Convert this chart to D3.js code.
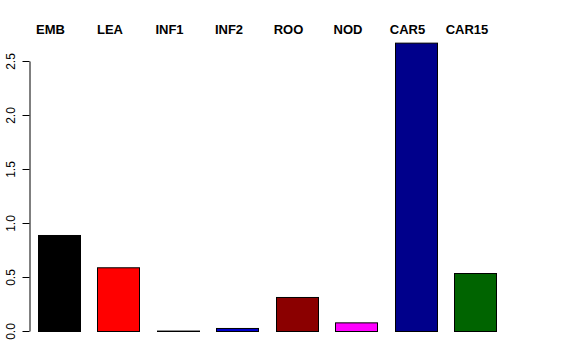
<!DOCTYPE html>
<html><head><meta charset="utf-8">
<script src="https://cdn.jsdelivr.net/npm/d3@7"></script>
<style>body{margin:0;background:#fff}svg{display:block}</style>
</head><body>
<script>
const categories = ["EMB","LEA","INF1","INF2","ROO","NOD","CAR5","CAR15"];
const values = [0.889, 0.59, 0.004, 0.028, 0.315, 0.08, 2.67, 0.537];
const colors = ["#000000","#FF0000","#006400","#0000CD","#8B0000","#FF00FF","#00008B","#006400"];
const yTicks = [0, 0.5, 1.0, 1.5, 2.0, 2.5];

const W = 576, H = 360;
const svg = d3.select("body").append("svg").attr("width", W).attr("height", H);

const y = d3.scaleLinear().domain([0, 2.5]).range([331, 61]);
const x = d3.scaleBand().domain(categories).range([38, 496.5]).paddingInner(0.294).paddingOuter(0);

svg.selectAll("rect.bar").data(categories).enter().append("rect")
  .attr("x", d => Math.round(x(d)) + 0.5)
  .attr("width", 42)
  .attr("y", (d,i) => y(values[i]) + 0.5)
  .attr("height", (d,i) => Math.max(0, y(0) - y(values[i])))
  .attr("fill", (d,i) => colors[i])
  .attr("stroke", "#000").attr("stroke-width", 1);

const yAxis = d3.axisLeft(y).tickValues(yTicks).tickFormat(d3.format(".1f")).tickSize(7).tickSizeOuter(0);
const g = svg.append("g").attr("transform", "translate(29.5,0)").call(yAxis);
g.select(".domain").attr("stroke", "#000");
g.selectAll(".tick line").attr("stroke", "#000");
g.selectAll(".tick text")
  .attr("font-family", "Liberation Sans, Arial, sans-serif")
  .attr("font-size", 12).attr("fill", "#000")
  .attr("text-anchor", "middle")
  .attr("x", 0).attr("dy", 0)
  .attr("transform", "translate(-15,0) rotate(-90)");

svg.selectAll("text.lab").data(categories).enter().append("text")
  .attr("x", d => x(d) + x.bandwidth()/2 - 8.5)
  .attr("y", 34)
  .attr("text-anchor", "middle")
  .attr("font-family", "Liberation Sans, Arial, sans-serif")
  .attr("font-weight", "bold").attr("font-size", 13)
  .text(d => d);
</script>
</body></html>
